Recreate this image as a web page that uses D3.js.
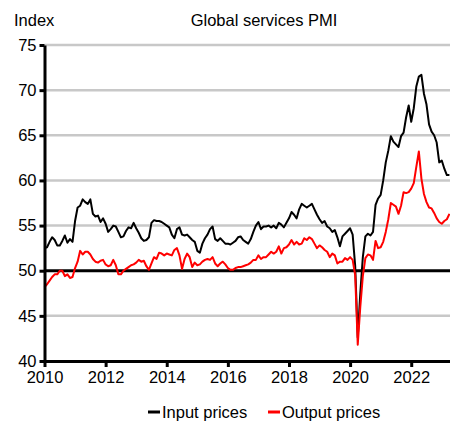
<!DOCTYPE html>
<html>
<head>
<meta charset="utf-8">
<script src="https://cdn.jsdelivr.net/npm/d3@7"></script>
<style>
  body { margin: 0; background: #fff; }
  text { font-family: "Liberation Sans", Arial, sans-serif; fill: #000; }
</style>
</head>
<body>
<div id="chart"></div>
<script>
// monthly, Jan 2010 onwards
var startYear = 2010;

var inputPrices = [
  52.5, 52.6, 53.2, 53.7, 53.4, 52.8, 52.8, 53.3, 53.9, 53.1, 53.5, 53.2,
  55.5, 57.0, 57.2, 57.9, 57.6, 57.4, 57.9, 56.3, 56.0, 56.1, 55.4, 55.8,
  55.2, 54.3, 54.6, 55.0, 54.9, 54.3, 53.7, 53.8, 54.4, 54.8, 54.7, 55.3,
  54.7, 54.2, 53.6, 53.3, 53.4, 53.7, 55.3, 55.6, 55.5, 55.5, 55.4, 55.2,
  55.0, 54.8, 54.0, 53.6, 54.6, 54.8, 54.0, 53.9, 54.0, 53.7, 53.4, 53.2,
  52.2, 52.0, 53.0, 53.6, 54.0, 54.6, 54.9, 53.5, 53.3, 53.6, 53.3, 53.0,
  53.0, 52.9, 53.1, 53.3, 53.7, 53.8, 53.4, 53.2, 53.0, 53.5, 54.3, 55.0,
  55.4, 54.6, 54.9, 54.9, 55.0, 54.8, 55.0, 54.7, 55.3, 55.1, 54.8, 55.3,
  55.8, 56.5, 56.2, 55.8, 56.8, 57.4, 57.2, 57.0, 57.2, 57.4, 56.8, 56.2,
  55.7, 55.3, 55.5, 54.9, 54.7, 54.3, 54.5, 53.7, 52.7, 53.8, 54.1, 54.4,
  54.7, 54.0, 50.5, 42.6, 47.5, 51.5, 53.8, 54.1, 53.9, 54.3, 57.3, 58.0,
  58.4, 60.0, 62.0, 63.3, 64.9, 64.3, 64.0, 63.7, 64.9, 65.3, 67.0, 68.3,
  66.5, 68.0, 70.4, 71.5, 71.7, 69.6, 68.4, 66.2, 65.4, 65.0, 64.2, 62.0,
  62.2, 61.3, 60.6, 60.6
];

var outputPrices = [
  48.2, 48.5, 48.9, 49.3, 49.6, 49.6, 50.0, 50.0, 49.4, 49.6, 49.2, 49.3,
  50.3, 51.0, 52.2, 51.8, 52.1, 52.1, 51.8, 51.3, 51.0, 50.9, 51.1, 51.2,
  50.7, 50.5, 50.6, 51.2, 50.6, 49.6, 49.6, 50.0, 50.2, 50.4, 50.6, 50.7,
  50.9, 51.2, 51.0, 51.1, 50.5, 50.1, 50.8, 51.5, 51.3, 52.0, 51.9, 51.7,
  51.9, 51.8, 51.7, 52.3, 52.5, 51.7, 50.2, 51.3, 51.9, 51.5, 50.4, 50.9,
  50.6, 50.7, 51.0, 51.2, 51.3, 51.2, 51.5, 50.8, 50.5, 50.8, 51.0, 50.7,
  50.3, 50.1, 50.1, 50.3, 50.4, 50.4, 50.5, 50.6, 50.7, 50.9, 51.2, 51.2,
  51.7, 51.3, 51.5, 51.5, 51.8, 52.1, 51.9, 52.1, 52.7, 51.9, 52.5, 52.6,
  52.9, 53.4, 52.9, 53.2, 52.9, 53.0, 53.6, 53.4, 53.7, 53.5, 53.0, 52.5,
  52.8, 52.6, 52.3, 52.1, 51.5, 51.9, 51.7, 50.8, 51.0, 51.0, 51.4, 51.2,
  51.5, 51.2, 49.5, 41.8, 46.0, 49.4, 51.4, 51.8, 51.7, 51.2, 53.3, 52.5,
  52.6, 53.2, 54.3, 55.7, 57.5, 57.3, 57.1, 56.3, 57.2, 58.7, 58.6, 58.7,
  59.1, 59.7, 61.5, 63.2, 60.2, 58.5, 57.6, 57.0, 56.9, 56.4, 55.8, 55.4,
  55.2, 55.5, 55.7, 56.3
];

var yTicks = [40, 45, 50, 55, 60, 65, 70, 75];
var xTicks = [2010, 2012, 2014, 2016, 2018, 2020, 2022];

var series = [
  { name: 'Input prices', color: '#000000', values: inputPrices },
  { name: 'Output prices', color: '#ff0000', values: outputPrices }
];

var chart = (function () {
  var width = 450,
      height = 421,
      mLeft = 44.5,
      mRight = 450,
      mTop = 45,
      mBottom = 361;
  return {
    width: width,
    height: height,
    left: mLeft,
    right: mRight,
    top: mTop,
    bottom: mBottom
  };
})();

var x = d3.scaleLinear()
  .domain([startYear, startYear + (chart.right - chart.left) / 30.56])
  .range([chart.left, chart.right]);
var y = d3.scaleLinear()
  .domain([40, 75])
  .range([chart.bottom, chart.top]);

var svg = d3.select('#chart')
  .append('svg')
    .attr('width', chart.width)
    .attr('height', chart.height);

// gridlines
svg.append('g')
  .selectAll('line')
  .data(yTicks.filter(function (v) { return v !== 40; }))
  .enter().append('line')
    .attr('x1', chart.left)
    .attr('x2', chart.right)
    .attr('y1', function (v) { return y(v); })
    .attr('y2', function (v) { return y(v); })
    .attr('stroke', function (v) { return v === 50 ? '#000' : '#c8c8c8'; })
    .attr('stroke-width', function (v) { return v === 50 ? 3 : 2.5; });

// series
var line = d3.line()
  .x(function (d, i) { return x(startYear + i / 12); })
  .y(function (d) { return y(d); });

svg.selectAll('path.series')
  .data(series)
  .enter().append('path')
    .classed('series', true)
    .attr('d', function (s) { return line(s.values); })
    .attr('fill', 'none')
    .attr('stroke', function (s) { return s.color; })
    .attr('stroke-width', 2)
    .attr('stroke-linejoin', 'round');

// axes
var yAxis = svg.append('g')
  .attr('transform', 'translate(' + chart.left + ',0)')
  .call(d3.axisLeft(y).tickValues(yTicks).tickSize(5).tickSizeOuter(0).tickPadding(3));
var xAxis = svg.append('g')
  .attr('transform', 'translate(0,' + chart.bottom + ')')
  .call(d3.axisBottom(x).tickValues(xTicks).tickFormat(d3.format('d')).tickSize(6).tickSizeOuter(0).tickPadding(4));

[yAxis, xAxis].forEach(function (ax) {
  ax.select('.domain').attr('stroke', '#000').attr('stroke-width', 3);
  ax.selectAll('.tick line').attr('stroke', '#000').attr('stroke-width', 3);
  ax.selectAll('.tick text')
    .style('font-family', '"Liberation Sans", Arial, sans-serif')
    .style('font-size', '16.5px')
    .attr('fill', '#000');
});

// titles
svg.append('text')
  .attr('x', 14)
  .attr('y', 26)
  .style('font-size', '16.5px')
  .text('Index');
svg.append('text')
  .attr('x', 264)
  .attr('y', 26)
  .attr('text-anchor', 'middle')
  .style('font-size', '16.5px')
  .text('Global services PMI');

// legend
var legend = svg.append('g')
  .selectAll('g')
  .data(series)
  .enter().append('g')
    .attr('transform', function (s, i) { return 'translate(' + [148, 268][i] + ',412)'; });
legend.append('line')
  .attr('x1', 0).attr('x2', 12)
  .attr('stroke', function (s) { return s.color; })
  .attr('stroke-width', 3);
legend.append('text')
  .attr('x', 14)
  .attr('y', 6)
  .style('font-size', '16.5px')
  .text(function (s) { return s.name; });
</script>
</body>
</html>
